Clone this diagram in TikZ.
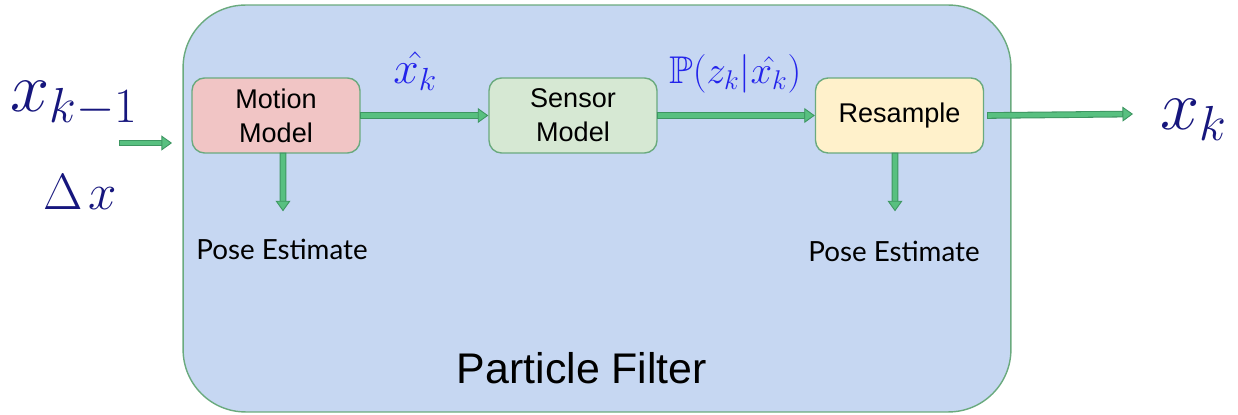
\documentclass[tikz,border=0pt]{standalone}
\usepackage{fix-cm}
\usepackage{amssymb}
\usepackage{fontspec}
\setmainfont{Liberation Sans}
\newfontfamily\posefont{Lato}
\usetikzlibrary{arrows.meta,positioning}

\definecolor{panelblue}{RGB}{198,215,242}
\definecolor{edgegreen}{RGB}{106,170,126}
\definecolor{arrowfill}{RGB}{88,192,128}
\definecolor{arrowedge}{RGB}{62,150,98}
\definecolor{motionred}{RGB}{241,197,197}
\definecolor{sensorgreen}{RGB}{214,232,211}
\definecolor{resampleyellow}{RGB}{255,241,203}
\definecolor{navy}{RGB}{22,22,125}
\definecolor{brightblue}{RGB}{35,35,235}

\tikzset{
  procbox/.style={draw=edgegreen, line width=0.8pt, rounded corners=0.25cm,
    minimum width=3.36cm, minimum height=1.5cm, align=center,
    font=\fontsize{15.4}{19.3}\selectfont},
  flowarrow/.style={draw=arrowfill, line width=2.6pt,
    -{Triangle[length=6pt,width=8.5pt,line width=0.5pt,color=arrowedge,fill=arrowfill]},
    preaction={draw=arrowedge, line width=3.8pt, shorten >=4pt, shorten <=-0.6pt, -}},
  poselabel/.style={inner sep=0pt, anchor=base, font=\posefont\fontsize{15.8}{19}\selectfont},
}

\begin{document}
\begin{tikzpicture}[x=0.02cm, y=-0.02cm]
\useasboundingbox (0,0) rectangle (1238,415);

% the filter panel
\node[draw=edgegreen, line width=0.8pt, fill=panelblue, rounded corners=1.25cm,
  minimum width=16.56cm, minimum height=8.14cm] (filter) at (597,208.5) {};
\node[inner sep=0pt, anchor=base, font=\fontsize{24.4}{29}\selectfont] (filtername) at (582,383) {Particle Filter};

% the three stages
\node[procbox, fill=motionred] (motion) at (276,115.5) {Motion\\Model};
\node[procbox, fill=sensorgreen] (sensor) at (573,115.5) {Sensor\\Model};
\node[procbox, fill=resampleyellow] (resample) at (899.5,115.5) {Resample};

% pose estimates
\node[poselabel] (poseA) at (282,260) {Pose Estimate};
\node[poselabel] (poseB) at (894,262) {Pose Estimate};

% inputs and output
\node[inner sep=0pt, anchor=base west, text=navy, font=\fontsize{40}{48}\selectfont] (prev) at (10,112) {$x_{k-1}$};
\node[inner sep=0pt, anchor=base west, text=navy, font=\fontsize{29}{34}\selectfont] (delta) at (43,210) {$\Delta\mkern2mu x$};
\node[inner sep=0pt, anchor=base west, text=navy, font=\fontsize{40}{48}\selectfont] (next) at (1160,130) {$x_k$};
\coordinate (inA) at (120,143);
\coordinate (inB) at (172,143);
\coordinate (outB) at (1133,114);

% labels on the arrows
\node[inner sep=0pt, anchor=base west, text=brightblue, font=\fontsize{26}{30}\selectfont] (pred) at (393,84) {$\hat{x_k}$};
\node[inner sep=0pt, anchor=base west, text=brightblue, font=\fontsize{22}{26}\selectfont] (like) at (669,84) {$\mathbb{P}(z_k|\hat{x_k})$};

% arrows
\draw[flowarrow] (inA) -- (inB);
\draw[flowarrow] (motion) -- (sensor);
\draw[flowarrow] (sensor) -- (resample);
\draw[flowarrow] ([xshift=0.08cm]resample.east) -- (outB);
\draw[flowarrow] ([xshift=0.14cm]motion.south) -- ([xshift=0.02cm,yshift=0.56cm]poseA.north);
\draw[flowarrow] ([xshift=-0.09cm]resample.south) -- ([xshift=0.02cm,yshift=0.6cm]poseB.north);

\end{tikzpicture}
\end{document}
